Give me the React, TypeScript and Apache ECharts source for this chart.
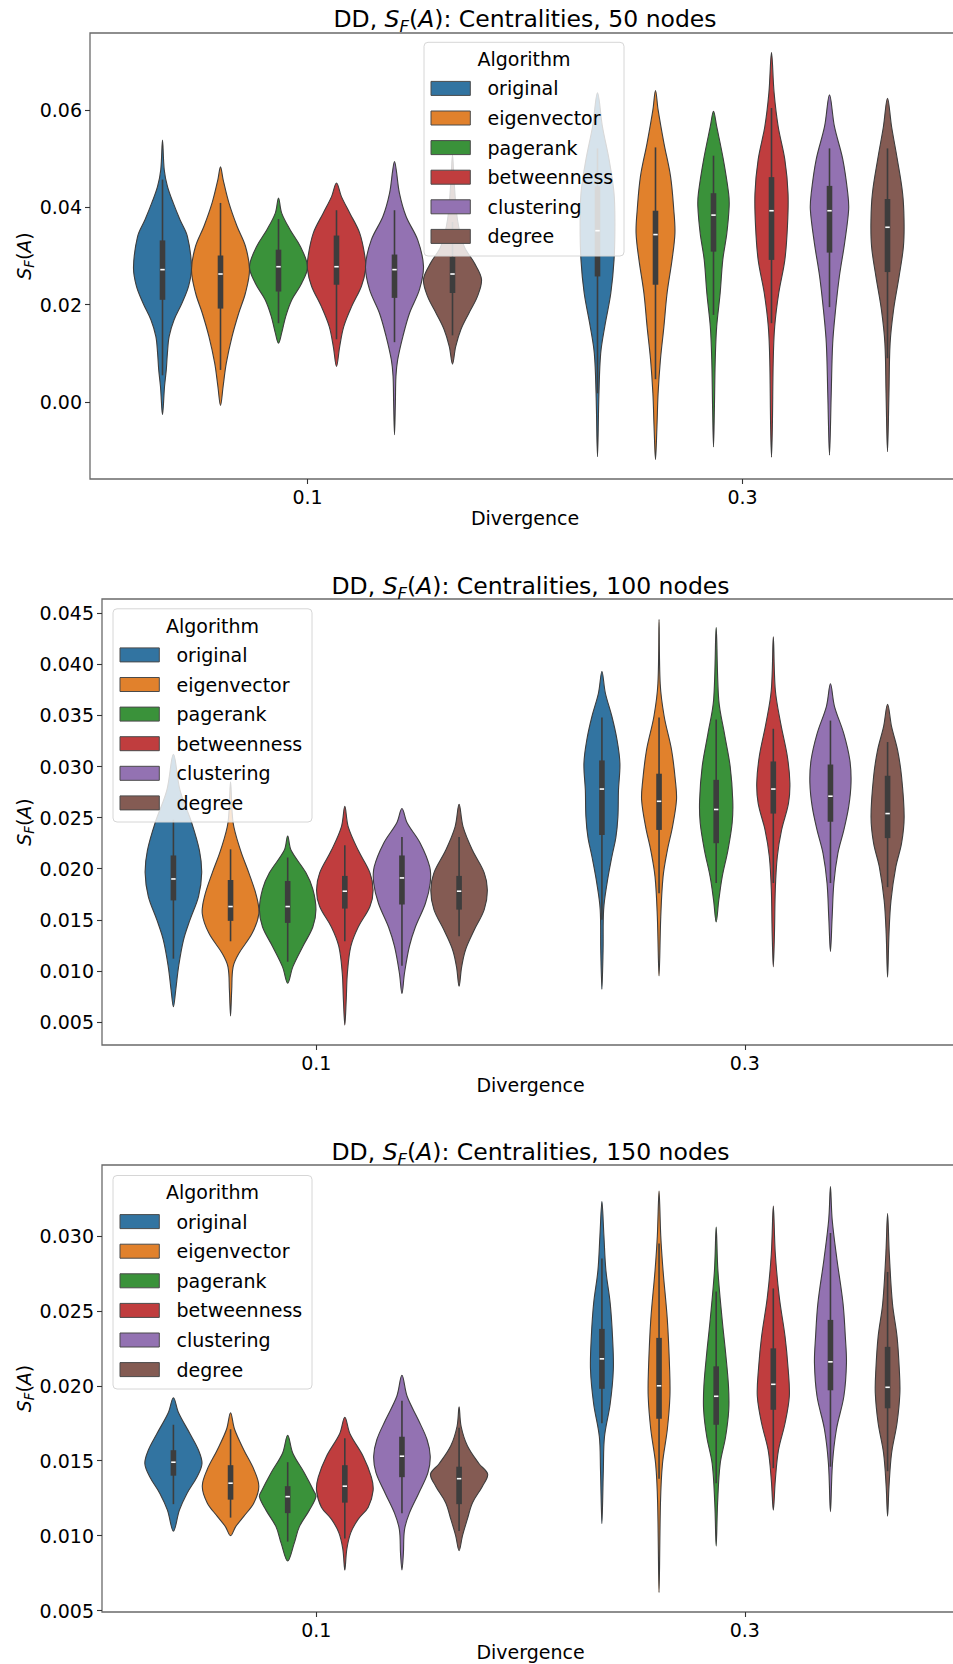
import React, { useEffect, useRef } from "react";
import * as echarts from "echarts";

// ---------- data ----------
const algorithms = ["original", "eigenvector", "pagerank", "betweenness", "clustering", "degree"];
const palette = ["#3274a1", "#e1812c", "#3a923a", "#c03d3e", "#9372b2", "#845b53"];
const divergences = ["0.1", "0.3"];
const nodeCounts = [50, 100, 150];

// Violin outlines: [value, relative half-width], from the lower tip to the upper tip.
// Order: divergence 0.1 (six algorithms), then divergence 0.3 (six algorithms).
const shapes50 = [
  [[-0.0026, 0], [0.0032, 0.07], [0.0066, 0.13], [0.0101, 0.17], [0.0135, 0.23], [0.0169, 0.4], [0.0203, 0.67], [0.0238, 0.9], [0.0277, 1.0], [0.034, 0.86], [0.0375, 0.6], [0.0409, 0.37], [0.0443, 0.17], [0.0477, 0.06], [0.0538, 0]],
  [[-0.0007, 0], [0.0032, 0.09], [0.008, 0.2], [0.0135, 0.4], [0.0183, 0.63], [0.0224, 0.86], [0.0272, 1.0], [0.032, 0.86], [0.0361, 0.57], [0.0409, 0.29], [0.0457, 0.09], [0.0483, 0]],
  [[0.0121, 0], [0.0142, 0.11], [0.0176, 0.25], [0.021, 0.46], [0.0244, 0.8], [0.0278, 1.0], [0.032, 0.75], [0.0354, 0.4], [0.0388, 0.11], [0.0419, 0]],
  [[0.0073, 0], [0.0114, 0.11], [0.0155, 0.25], [0.0196, 0.52], [0.0238, 0.86], [0.0272, 1.0], [0.0299, 0.98], [0.0347, 0.8], [0.0388, 0.46], [0.0422, 0.17], [0.045, 0]],
  [[-0.0067, 0], [-0.0002, 0.03], [0.0053, 0.05], [0.0087, 0.11], [0.0135, 0.29], [0.0183, 0.52], [0.0231, 0.86], [0.0279, 1.0], [0.0333, 0.8], [0.0381, 0.4], [0.0429, 0.17], [0.0477, 0.06], [0.0494, 0]],
  [[0.0078, 0], [0.0114, 0.11], [0.0149, 0.29], [0.0183, 0.57], [0.0217, 0.86], [0.0252, 1.0], [0.0286, 0.75], [0.032, 0.4], [0.0375, 0.17], [0.045, 0.06], [0.0508, 0]],
  [[-0.0112, 0], [0.0018, 0.05], [0.01, 0.11], [0.0155, 0.25], [0.0224, 0.46], [0.0292, 0.57], [0.0361, 0.6], [0.0429, 0.57], [0.0498, 0.4], [0.0566, 0.17], [0.0635, 0]],
  [[-0.0118, 0], [-0.005, 0.05], [0.0018, 0.09], [0.0087, 0.17], [0.0155, 0.29], [0.0224, 0.4], [0.0292, 0.57], [0.0347, 0.67], [0.0395, 0.63], [0.0463, 0.52], [0.0532, 0.29], [0.06, 0.09], [0.064, 0]],
  [[-0.0092, 0], [-0.0016, 0.03], [0.0087, 0.06], [0.0155, 0.11], [0.0224, 0.23], [0.0292, 0.32], [0.0347, 0.46], [0.0402, 0.54], [0.0429, 0.52], [0.0498, 0.34], [0.0566, 0.11], [0.0597, 0]],
  [[-0.0113, 0], [-0.005, 0.03], [0.0087, 0.06], [0.0155, 0.11], [0.0224, 0.25], [0.0292, 0.46], [0.0361, 0.55], [0.0429, 0.57], [0.0498, 0.46], [0.0566, 0.23], [0.0635, 0.09], [0.0718, 0]],
  [[-0.0109, 0], [0.0018, 0.06], [0.0121, 0.11], [0.019, 0.21], [0.0258, 0.34], [0.0326, 0.52], [0.0395, 0.66], [0.0429, 0.63], [0.0498, 0.46], [0.0566, 0.17], [0.0631, 0]],
  [[-0.0102, 0], [0.0018, 0.05], [0.0121, 0.09], [0.019, 0.21], [0.0258, 0.4], [0.032, 0.55], [0.0374, 0.57], [0.0429, 0.52], [0.0498, 0.34], [0.0566, 0.14], [0.0624, 0]],
];
// Box summaries: [lower whisker, q1, median, q3, upper whisker]
const boxes50 = [
  [0.0055, 0.021, 0.0272, 0.0332, 0.0457],
  [0.0066, 0.0192, 0.0263, 0.0301, 0.0409],
  [0.0162, 0.0227, 0.0278, 0.0313, 0.0376],
  [0.0129, 0.0241, 0.0278, 0.0342, 0.0394],
  [0.0123, 0.0214, 0.0272, 0.0303, 0.0394],
  [0.0137, 0.0224, 0.0263, 0.0298, 0.037],
  [0.0018, 0.0258, 0.0352, 0.0443, 0.0521],
  [0.0047, 0.0241, 0.0344, 0.0393, 0.0523],
  [0.0179, 0.0309, 0.0384, 0.0429, 0.0506],
  [0.0162, 0.0292, 0.0393, 0.0462, 0.0604],
  [0.0195, 0.0307, 0.0393, 0.0444, 0.0521],
  [0.009, 0.0267, 0.0359, 0.0417, 0.0521],
];

const shapes100 = [
  [[0.0065, 0], [0.0081, 0.08], [0.0104, 0.18], [0.013, 0.35], [0.015, 0.58], [0.0173, 0.88], [0.0196, 0.99], [0.0218, 0.91], [0.0245, 0.64], [0.0277, 0.23], [0.0312, 0]],
  [[0.0056, 0], [0.0081, 0.04], [0.0104, 0.09], [0.0117, 0.29], [0.0137, 0.76], [0.0156, 0.99], [0.0173, 0.91], [0.0196, 0.64], [0.0218, 0.35], [0.0245, 0.09], [0.0285, 0]],
  [[0.0088, 0], [0.0104, 0.18], [0.0124, 0.53], [0.0143, 0.88], [0.016, 0.99], [0.018, 0.88], [0.0196, 0.64], [0.0218, 0.12], [0.0232, 0]],
  [[0.0047, 0], [0.0072, 0.05], [0.0098, 0.09], [0.0124, 0.21], [0.0143, 0.47], [0.0163, 0.88], [0.0179, 0.99], [0.0196, 0.88], [0.0218, 0.47], [0.0241, 0.12], [0.0261, 0]],
  [[0.0078, 0], [0.0098, 0.09], [0.0124, 0.26], [0.0143, 0.47], [0.0166, 0.82], [0.0186, 0.99], [0.0202, 0.97], [0.0225, 0.64], [0.0245, 0.18], [0.0259, 0]],
  [[0.0085, 0], [0.0104, 0.09], [0.0121, 0.23], [0.014, 0.53], [0.016, 0.88], [0.0179, 0.99], [0.0196, 0.88], [0.0218, 0.47], [0.0241, 0.14], [0.0263, 0]],
  [[0.0082, 0], [0.012, 0.04], [0.016, 0.06], [0.0186, 0.18], [0.0212, 0.35], [0.0231, 0.49], [0.0251, 0.56], [0.0277, 0.58], [0.0303, 0.63], [0.0326, 0.53], [0.0349, 0.35], [0.0372, 0.12], [0.0393, 0]],
  [[0.0095, 0], [0.0153, 0.06], [0.0192, 0.14], [0.0218, 0.29], [0.0241, 0.47], [0.0267, 0.61], [0.0284, 0.58], [0.0316, 0.44], [0.0349, 0.18], [0.0381, 0.04], [0.0444, 0]],
  [[0.0148, 0], [0.0169, 0.09], [0.0192, 0.21], [0.0218, 0.41], [0.0245, 0.56], [0.0267, 0.58], [0.03, 0.49], [0.0332, 0.29], [0.0365, 0.09], [0.0436, 0]],
  [[0.0104, 0], [0.0137, 0.04], [0.018, 0.07], [0.0212, 0.14], [0.0238, 0.29], [0.0264, 0.53], [0.0284, 0.58], [0.031, 0.49], [0.0342, 0.26], [0.0375, 0.07], [0.0427, 0]],
  [[0.0119, 0], [0.0153, 0.06], [0.0186, 0.12], [0.0215, 0.26], [0.0238, 0.47], [0.0261, 0.64], [0.0284, 0.72], [0.0306, 0.68], [0.0332, 0.47], [0.0359, 0.14], [0.0381, 0]],
  [[0.0094, 0], [0.0137, 0.05], [0.0169, 0.12], [0.0202, 0.29], [0.0225, 0.49], [0.0251, 0.58], [0.029, 0.49], [0.0316, 0.35], [0.0339, 0.14], [0.0361, 0]],
];
const boxes100 = [
  [0.0112, 0.0169, 0.019, 0.0213, 0.0248],
  [0.0129, 0.0149, 0.0163, 0.0189, 0.0219],
  [0.0109, 0.0147, 0.0163, 0.0188, 0.0211],
  [0.0129, 0.0161, 0.0178, 0.0193, 0.0223],
  [0.0105, 0.0165, 0.0191, 0.0213, 0.0231],
  [0.0134, 0.016, 0.0178, 0.0193, 0.0231],
  [0.015, 0.0233, 0.0278, 0.0306, 0.0348],
  [0.0176, 0.0238, 0.0266, 0.0293, 0.0348],
  [0.0186, 0.0225, 0.0258, 0.0287, 0.0346],
  [0.0186, 0.0254, 0.0278, 0.0305, 0.0337],
  [0.0186, 0.0246, 0.0271, 0.0302, 0.0345],
  [0.0182, 0.023, 0.0254, 0.0291, 0.0324],
];

const shapes150 = [
  [[0.0103, 0], [0.0117, 0.21], [0.0128, 0.47], [0.0139, 0.82], [0.0148, 1.0], [0.0157, 0.88], [0.0168, 0.58], [0.0182, 0.18], [0.0192, 0]],
  [[0.01, 0], [0.0106, 0.18], [0.0113, 0.47], [0.0122, 0.82], [0.0133, 0.99], [0.0144, 0.82], [0.0157, 0.47], [0.0171, 0.14], [0.0182, 0]],
  [[0.0083, 0], [0.0095, 0.23], [0.0106, 0.41], [0.0117, 0.76], [0.0126, 0.99], [0.013, 0.91], [0.0142, 0.58], [0.0155, 0.18], [0.0167, 0]],
  [[0.0077, 0], [0.0091, 0.07], [0.0102, 0.21], [0.0111, 0.47], [0.0119, 0.82], [0.013, 0.99], [0.0139, 0.93], [0.0153, 0.64], [0.0168, 0.18], [0.0179, 0]],
  [[0.0077, 0], [0.0088, 0.05], [0.0104, 0.09], [0.0115, 0.26], [0.0128, 0.58], [0.0142, 0.91], [0.0153, 0.99], [0.0164, 0.88], [0.0177, 0.58], [0.0193, 0.18], [0.0207, 0]],
  [[0.009, 0], [0.01, 0.12], [0.0111, 0.29], [0.0122, 0.47], [0.0133, 0.82], [0.0141, 1.0], [0.0148, 0.7], [0.016, 0.29], [0.0173, 0.07], [0.0186, 0]],
  [[0.0108, 0], [0.0144, 0.05], [0.0166, 0.09], [0.0188, 0.29], [0.0211, 0.4], [0.0233, 0.37], [0.0255, 0.29], [0.0277, 0.14], [0.03, 0.07], [0.0323, 0]],
  [[0.0062, 0], [0.0122, 0.05], [0.0148, 0.12], [0.0171, 0.29], [0.0193, 0.38], [0.0211, 0.37], [0.0244, 0.29], [0.0277, 0.14], [0.03, 0.06], [0.033, 0]],
  [[0.0093, 0], [0.0122, 0.05], [0.0148, 0.14], [0.0166, 0.33], [0.0184, 0.44], [0.02, 0.43], [0.0222, 0.33], [0.0244, 0.21], [0.0277, 0.06], [0.0306, 0]],
  [[0.0117, 0], [0.0137, 0.07], [0.0157, 0.18], [0.0175, 0.41], [0.0193, 0.56], [0.0211, 0.52], [0.0233, 0.41], [0.0259, 0.21], [0.0288, 0.07], [0.032, 0]],
  [[0.0116, 0], [0.0148, 0.07], [0.0171, 0.21], [0.0193, 0.47], [0.0215, 0.56], [0.0233, 0.52], [0.0255, 0.44], [0.0284, 0.23], [0.0311, 0.06], [0.0333, 0]],
  [[0.0113, 0], [0.0133, 0.05], [0.0155, 0.14], [0.0175, 0.33], [0.0195, 0.43], [0.0211, 0.41], [0.0233, 0.33], [0.0255, 0.17], [0.0288, 0.06], [0.0315, 0]],
];
const boxes150 = [
  [0.0121, 0.014, 0.0149, 0.0157, 0.0174],
  [0.0112, 0.0124, 0.0135, 0.0147, 0.0171],
  [0.0096, 0.0115, 0.0126, 0.0133, 0.0149],
  [0.0098, 0.0122, 0.0133, 0.0147, 0.0165],
  [0.0115, 0.0139, 0.0153, 0.0166, 0.019],
  [0.0103, 0.0121, 0.0138, 0.0146, 0.0172],
  [0.0175, 0.0198, 0.0218, 0.0238, 0.0285],
  [0.0138, 0.0178, 0.02, 0.0232, 0.0295],
  [0.0135, 0.0174, 0.0193, 0.0213, 0.0263],
  [0.0145, 0.0184, 0.0201, 0.0225, 0.0265],
  [0.0146, 0.0197, 0.0216, 0.0244, 0.0302],
  [0.0143, 0.0185, 0.0199, 0.0226, 0.0276],
];

const ticks50 = ["0.00", "0.02", "0.04", "0.06"];
const ticks100 = ["0.005", "0.010", "0.015", "0.020", "0.025", "0.030", "0.035", "0.040", "0.045"];
const ticks150 = ["0.005", "0.010", "0.015", "0.020", "0.025", "0.030"];
const yRanges = [
  [-0.0158, 0.0758],
  [0.00275, 0.0464],
  [0.0049, 0.03474],
];

// ---------- layout ----------
const FONT = "DejaVu Sans";
const INK = "#3d3d3d";
const FRAME = "#6a6a6a";
const CANVAS_W = 990; // the plot frames run past the right edge of the page
const PAGE_W = 953;
const PAGE_H = 1664;

const panels = [
  { shapes: shapes50, boxes: boxes50, ticks: ticks50, range: yRanges[0], nodes: nodeCounts[0],
    grid: { left: 90, top: 33, width: 870, height: 446 }, titleY: 19, xNameY: 518,
    legend: { left: 424, top: 42.3, width: 200, height: 213.7 } },
  { shapes: shapes100, boxes: boxes100, ticks: ticks100, range: yRanges[1], nodes: nodeCounts[1],
    grid: { left: 102, top: 599, width: 857, height: 446 }, titleY: 586, xNameY: 1084.5,
    legend: { left: 113, top: 608.8, width: 199, height: 213.2 } },
  { shapes: shapes150, boxes: boxes150, ticks: ticks150, range: yRanges[2], nodes: nodeCounts[2],
    grid: { left: 102, top: 1165, width: 857, height: 447 }, titleY: 1152, xNameY: 1652,
    legend: { left: 113, top: 1175.5, width: 199, height: 213.5 } },
];

function mathRich(base: number) {
  return {
    n: { fontSize: base, fontFamily: FONT, fill: "#000", lineHeight: base * 1.3 },
    i: { fontSize: base, fontFamily: FONT, fontStyle: "italic", fill: "#000", lineHeight: base * 1.3 },
    s: { fontSize: base * 0.7, fontFamily: FONT, fontStyle: "italic", fill: "#000", lineHeight: base * 0.7, verticalAlign: "bottom" },
  };
}

function violinSeries(p: any, gi: number) {
  const shapes = p.shapes;
  const boxes = p.boxes;
  return {
    type: "custom",
    name: `${p.nodes} nodes`,
    xAxisIndex: gi,
    yAxisIndex: gi,
    z: 2,
    data: boxes.map((b: number[], i: number) => [Math.floor(i / 6), b[2]]),
    encode: { x: 0, y: 1 },
    renderItem: (params: any, api: any) => {
      const i = params.dataIndex;
      const cat = Math.floor(i / 6);
      const hue = i % 6;
      const band = api.size([1, 0])[0];
      const slot = (band * 0.8) / 6;
      const cx = api.coord([cat, 0])[0] + (hue - 2.5) * slot;
      const half = slot / 2;
      const py = (v: number) => api.coord([cat, v])[1];
      const outline: number[][] = shapes[i];
      const right = outline.map(([v, w]) => [cx + w * half, py(v)]);
      const left = outline
        .slice(1, -1)
        .reverse()
        .map(([v, w]) => [cx - w * half, py(v)]);
      const [lo, q1, med, q3, hi] = boxes[i];
      const boxW = 5.6;
      return {
        type: "group",
        children: [
          {
            type: "polygon",
            shape: { points: right.concat(left), smooth: 0.35 },
            style: { fill: palette[hue], stroke: INK, lineWidth: 1.1 },
          },
          {
            type: "line",
            shape: { x1: cx, y1: py(lo), x2: cx, y2: py(hi) },
            style: { stroke: INK, lineWidth: 1.6 },
          },
          {
            type: "rect",
            shape: { x: cx - boxW / 2, y: py(q3), width: boxW, height: py(q1) - py(q3) },
            style: { fill: INK },
          },
          {
            type: "rect",
            shape: { x: cx - 2.2, y: py(med) - 0.8, width: 4.4, height: 1.6 },
            style: { fill: "#ffffff" },
          },
        ],
      };
    },
  };
}

function legendElements(L: any) {
  const out: any[] = [
    {
      type: "rect",
      z: 100,
      shape: { x: L.left, y: L.top, width: L.width, height: L.height, r: 4 },
      style: { fill: "rgba(255,255,255,0.8)", stroke: "#d6d6d6", lineWidth: 1 },
    },
    {
      type: "text",
      z: 101,
      x: L.left + L.width / 2,
      y: L.top + 16.8,
      style: { text: "Algorithm", fontSize: 19, fontFamily: FONT, fill: "#000", align: "center", verticalAlign: "middle" },
    },
  ];
  algorithms.forEach((name, k) => {
    const rowY = L.top + 46.1 + k * 29.6;
    out.push({
      type: "rect",
      z: 101,
      shape: { x: L.left + 7, y: rowY - 7, width: 39.3, height: 14 },
      style: { fill: palette[k], stroke: "#4a4a4a", lineWidth: 1 },
    });
    out.push({
      type: "text",
      z: 101,
      x: L.left + 63.5,
      y: rowY,
      style: { text: name, fontSize: 19, fontFamily: FONT, fill: "#000", align: "left", verticalAlign: "middle" },
    });
  });
  return out;
}

function buildOption() {
  const graphic: any[] = [];
  panels.forEach((p) => {
    const cx = p.grid.left + p.grid.width / 2;
    graphic.push({
      type: "text",
      x: cx,
      y: p.titleY,
      z: 101,
      style: {
        text: `{n|DD, }{i|S}{s|F}{n|(}{i|A}{n|): Centralities, ${p.nodes} nodes}`,
        rich: mathRich(23.5),
        align: "center",
        verticalAlign: "middle",
      },
    });
    graphic.push({
      type: "text",
      x: 24,
      y: p.grid.top + p.grid.height / 2,
      rotation: Math.PI / 2,
      z: 101,
      style: {
        text: "{i|S}{s|F}{n|(}{i|A}{n|)}",
        rich: mathRich(19),
        align: "center",
        verticalAlign: "middle",
      },
    });
    graphic.push({
      type: "text",
      x: cx,
      y: p.xNameY,
      z: 101,
      style: { text: "Divergence", fontSize: 19, fontFamily: FONT, fill: "#000", align: "center", verticalAlign: "middle" },
    });
    legendElements(p.legend).forEach((el) => graphic.push(el));
  });

  return {
    animation: false,
    backgroundColor: "#ffffff",
    textStyle: { fontFamily: FONT },
    grid: panels.map((p) => ({
      ...p.grid,
      show: true,
      borderColor: FRAME,
      borderWidth: 1.3,
      backgroundColor: "transparent",
      containLabel: false,
    })),
    xAxis: panels.map((p, gi) => ({
      type: "category",
      gridIndex: gi,
      data: divergences,
      boundaryGap: true,
      axisLine: { show: false, onZero: false },
      axisTick: { show: true, alignWithLabel: true, length: 5, lineStyle: { color: "#333", width: 1.1 } },
      axisLabel: { fontSize: 19, color: "#000", margin: 8, fontFamily: FONT },
      splitLine: { show: false },
    })),
    yAxis: panels.map((p, gi) => {
      const values = p.ticks.map(Number);
      return {
        type: "value",
        gridIndex: gi,
        min: p.range[0],
        max: p.range[1],
        splitNumber: gi === 0 ? 5 : gi === 1 ? 8 : 6,
        axisLine: { show: false, onZero: false },
        axisTick: { show: true, length: 5, customValues: values, lineStyle: { color: "#333", width: 1.1 } },
        axisLabel: {
          fontSize: 19,
          color: "#000",
          margin: 8,
          fontFamily: FONT,
          customValues: values,
          formatter: (v: number) => {
            const hit = p.ticks.find((t: string) => Math.abs(Number(t) - v) < 1e-9);
            return hit === undefined ? "" : hit;
          },
        },
        splitLine: { show: false },
      };
    }),
    series: panels.map((p, gi) => violinSeries(p, gi)),
    graphic: { elements: graphic },
  };
}

export default function App() {
  const ref = useRef<HTMLDivElement>(null);
  useEffect(() => {
    if (!ref.current) return;
    const chart = echarts.init(ref.current, undefined, { renderer: "svg" });
    chart.setOption(buildOption() as any);
    return () => chart.dispose();
  }, []);
  return (
    <div
      style={{ position: "absolute", left: 0, top: 0, width: PAGE_W, height: PAGE_H, overflow: "hidden", background: "#fff" }}
    >
      <div ref={ref} style={{ width: CANVAS_W, height: PAGE_H }} />
    </div>
  );
}
